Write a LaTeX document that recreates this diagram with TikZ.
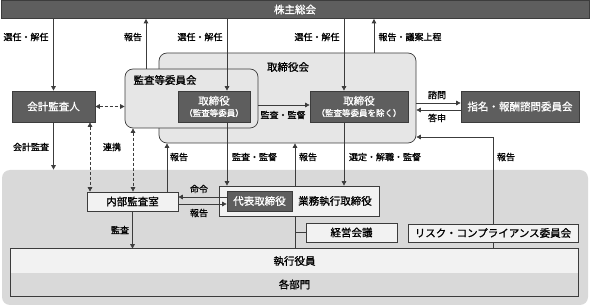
\documentclass[tikz,border=0pt]{standalone}
\usepackage{fontspec}
\setmainfont{Noto Sans CJK JP}[FakeBold=1]
\usetikzlibrary{positioning,arrows.meta}

\definecolor{darkbox}{HTML}{5E5E5E}
\definecolor{areagray}{HTML}{D9D9D9}
\definecolor{boardgray}{HTML}{E6E6E6}
\definecolor{lightbox}{HTML}{F2F2F2}
\definecolor{linegray}{HTML}{3C3C3C}

\begin{document}
\begin{tikzpicture}[x=1pt, y=-1pt, line width=0.7pt,
  >={Triangle[length=4.5pt,width=4.5pt]},
  boxfont/.style={font=\fontsize{10.5}{12.5}\selectfont},
  darknode/.style={boxfont, draw=linegray, fill=darkbox, text=white, inner sep=0pt, align=center},
  lightnode/.style={boxfont, draw=linegray, fill=lightbox, inner sep=0pt},
  grouparea/.style={draw=linegray, fill=boardgray, rounded corners=8pt, inner sep=0pt},
  lbl/.style={font=\fontsize{9}{10}\selectfont, inner sep=1pt},
  conn/.style={draw=linegray, ->},
  dconn/.style={draw=linegray, <->, dash pattern=on 3pt off 2pt}]
  \useasboundingbox (0,0) rectangle (590,307);

  % executive area
  \node[fill=areagray, rounded corners=8pt, inner sep=0pt,
        minimum width=586pt, minimum height=135pt] (lower) at (295,237.5) {};

  % top level
  \node[darknode, minimum width=588pt, minimum height=18pt] (share) at (295,9.5) {株主総会};
  \node[grouparea, minimum width=257pt, minimum height=90pt] (board) at (287.5,98) {};
  \node[boxfont] (boardtitle) at (288,67) {取締役会};
  \node[grouparea, minimum width=133pt, minimum height=59pt] (acbox) at (191.5,98.5) {};
  \node[boxfont] (actitle) at (165,80) {監査等委員会};
  \node[darknode, minimum width=72pt, minimum height=31pt] (dirA) at (214,106.5)
    {取締役\\[-1pt]{\fontsize{8.5}{10}\selectfont（監査等委員）}};
  \node[darknode, minimum width=98pt, minimum height=31pt] (dirB) at (359,106.5)
    {取締役\\[-1pt]{\fontsize{8.5}{10}\selectfont（監査等委員を除く）}};
  \node[darknode, minimum width=83pt, minimum height=31pt] (audfirm) at (53.5,106.5) {会計監査人};
  \node[darknode, minimum width=118pt, minimum height=31pt] (nom) at (520,106.5) {指名・報酬諮問委員会};

  % inside the executive area
  \node[lightnode, minimum width=91pt, minimum height=19pt] (ia) at (132.5,201.5) {内部監査室};
  \node[lightnode, minimum width=160pt, minimum height=30pt] (exd) at (299,201) {};
  \node[boxfont] (exdtext) at (335,201) {業務執行取締役};
  \node[darknode, minimum width=65pt, minimum height=20pt] (rep) at (259.5,201) {代表取締役};
  \node[lightnode, minimum width=91pt, minimum height=19pt] (mgmt) at (351.5,232.5) {経営会議};
  \node[lightnode, minimum width=170pt, minimum height=18pt] (risk) at (493,233) {リスク・コンプライアンス委員会};
  \node[boxfont, fill=lightbox, inner sep=0pt, minimum width=567pt, minimum height=24pt] (exec) at (294.5,261) {執行役員};
  \node[boxfont, fill=areagray, inner sep=0pt, minimum width=567pt, minimum height=23pt] (dept) at (294.5,284.5) {各部門};
  \draw[linegray] (exec.north west) rectangle (dept.south east);

  % connectors from and to the shareholders
  \draw[conn] (share.south -| audfirm.north) -- (audfirm.north);
  \draw[conn] (146,0 |- acbox.north) -- (146,0 |- share.south);
  \draw[conn] (share.south -| 227,0) -- (227,0 |- dirA.north);
  \draw[conn] (share.south -| 344,0) -- (344,0 |- dirB.north);
  \draw[conn] (374,0 |- board.north) -- (374,0 |- share.south);
  \node[lbl] (lblElectA) at (26,37) {選任・解任};
  \node[lbl] (lblRepA) at (133,37) {報告};
  \node[lbl] (lblElectB) at (200,37) {選任・解任};
  \node[lbl] (lblElectC) at (317,37) {選任・解任};
  \node[lbl] (lblRepB) at (410,37) {報告・議案上程};

  % board level
  \draw[dconn] (audfirm.east) -- (audfirm.east -| acbox.west);
  \draw[conn] (acbox.east |- 0,105) -- (dirB.west |- 0,105);
  \node[lbl] (lblSuper) at (283,115) {監査・監督};
  \draw[conn] (board.east |- 0,103) -- (nom.west |- 0,103);
  \draw[conn] (nom.west |- 0,110) -- (board.east |- 0,110);
  \node[lbl] (lblAsk) at (437,95) {諮問};
  \node[lbl] (lblAns) at (437,118) {答申};

  % between board and executive area
  \draw[conn] (audfirm.south) -- (audfirm.south |- lower.north);
  \draw[dconn] (90,0 |- audfirm.south) -- (90,0 |- ia.north);
  \draw[dconn] (133,0 |- acbox.south) -- (133,0 |- ia.north);
  \draw[conn] (167,0 |- ia.north) -- (167,0 |- board.south);
  \draw[conn] (dirA.south -| 227,0) -- (227,0 |- exd.north);
  \draw[conn] (295,0 |- exd.north) -- (295,0 |- board.south);
  \draw[conn] (dirB.south -| 344,0) -- (344,0 |- exd.north);
  \draw[conn] (risk.north) |- (board.east |- 0,137);
  \node[lbl] (lblAudit) at (31,147) {会計監査};
  \node[lbl] (lblLink) at (112,147) {連携};
  \node[lbl] (lblRepC) at (179,157) {報告};
  \node[lbl] (lblSuperB) at (254.5,157) {監査・監督};
  \node[lbl] (lblRepD) at (308,157) {報告};
  \node[lbl] (lblSelect) at (385,157) {選定・解職・監督};
  \node[lbl] (lblRepE) at (506,157) {報告};

  % executive area
  \draw[conn] (rep.west |- 0,197) -- (ia.east |- 0,197);
  \draw[conn] (ia.east |- 0,204) -- (rep.west |- 0,204);
  \node[lbl] (lblOrder) at (199,189) {命令};
  \node[lbl] (lblRepF) at (199,213) {報告};
  \draw[conn] (ia.south) -- (ia.south |- exec.north);
  \node[lbl] (lblAuditB) at (120,230) {監査};
  \draw[linegray] (295,0 |- exd.south) -- (295,0 |- exec.north);
  \draw[linegray] (295,0 |- mgmt.west) -- (mgmt.west);
  \draw[linegray] (risk.south) -- (risk.south |- exec.north);
\end{tikzpicture}
\end{document}
